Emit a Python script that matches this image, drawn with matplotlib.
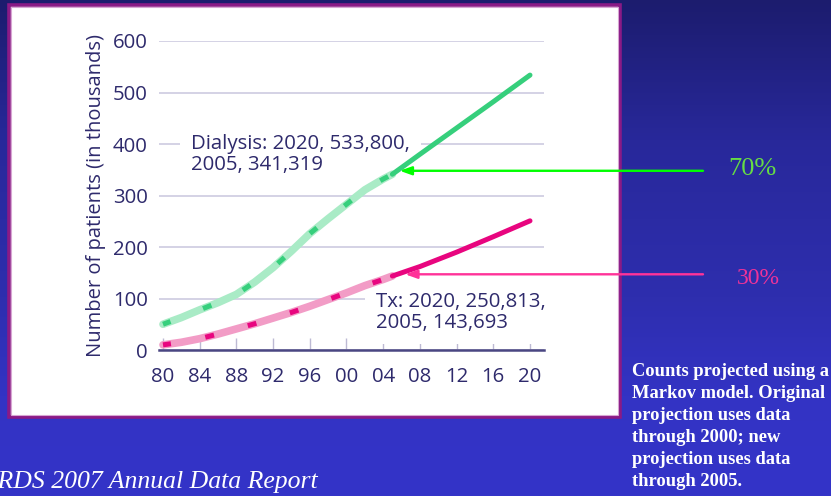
import numpy as np
import matplotlib
matplotlib.use("Agg")
import matplotlib.pyplot as plt
from matplotlib.patches import Rectangle
from matplotlib.colors import LinearSegmentedColormap
from matplotlib.transforms import blended_transform_factory

# ---- data (patients, thousands) ----
years_hist = [1980, 1982, 1984, 1986, 1988, 1990, 1992, 1994, 1996, 1998, 2000, 2002, 2004, 2005]
dialysis_hist = [50, 63, 78, 92, 108, 132, 160, 192, 226, 255, 283, 311, 332, 341.319]
tx_hist = [10, 15, 22, 31, 41, 51, 62, 73, 85, 98, 111, 125, 137, 143.693]

years_proj = [2005, 2008, 2012, 2016, 2020]
dialysis_proj = [341.319, 380, 431, 482, 533.8]
tx_proj = [143.693, 162, 190, 220, 250.813]

x_ticks = [1980, 1984, 1988, 1992, 1996, 2000, 2004, 2008, 2012, 2016, 2020]
x_ticklabels = ["80", "84", "88", "92", "96", "00", "04", "08", "12", "16", "20"]
y_ticks = [0, 100, 200, 300, 400, 500, 600]

dialysis_label = "Dialysis: 2020, 533,800,\n2005, 341,319"
tx_label = "Tx: 2020, 250,813,\n2005, 143,693"
share_labels = ["70%", "30%"]

W, H = 831, 496
fig = plt.figure(figsize=(W / 100, H / 100), dpi=100)

# slide background: vertical blue gradient
bg = fig.add_axes([0, 0, 1, 1], zorder=-10)
bg.set_axis_off()
cmap = LinearSegmentedColormap.from_list(
    "slide", [(0.0, "#1c1c6e"), (0.28, "#28289a"), (0.6, "#2e2eae"),
              (0.8, "#3333c4"), (1.0, "#3434c8")])
grad = np.linspace(0, 1, 256).reshape(-1, 1)
bg.imshow(grad, aspect="auto", cmap=cmap, extent=[0, 1, 0, 1], origin="upper")
bg.set_xlim(0, 1)
bg.set_ylim(0, 1)

# white chart panel with purple frame
def px_box(x0, y0, x1, y1):
    return (x0 / W, 1 - y1 / H, (x1 - x0) / W, (y1 - y0) / H)

bx, by, bw, bh = px_box(8.5, 5, 620, 417)
fig.patches.append(Rectangle((bx, by), bw, bh, transform=fig.transFigure,
                             facecolor="white", edgecolor="#8a1a86",
                             linewidth=2.6, zorder=-5))
fig.patches.append(Rectangle((bx + 2.2 / W, by + 2.2 / H), bw - 4.4 / W, bh - 4.4 / H,
                             transform=fig.transFigure, facecolor="none",
                             edgecolor="#d7a6d3", linewidth=0.8, zorder=-4))

# chart axes
px_per_year = (530 - 163) / 40.0
x_left = 1980 - (163 - 159) / px_per_year
x_right = 2020 + (544 - 530) / px_per_year
ax = fig.add_axes([159 / W, 1 - 350 / H, (544 - 159) / W, (350 - 41) / H])
ax.set_facecolor("none")
ax.set_xlim(x_left, x_right)
ax.set_ylim(0, 600)

navy = "#2e2a6c"
for s in ["top", "right", "left"]:
    ax.spines[s].set_visible(False)
ax.spines["bottom"].set_color("#4a4682")
ax.spines["bottom"].set_linewidth(1.8)
ax.spines["bottom"].set_zorder(3)

ax.set_yticks(y_ticks)
ax.set_xticks(x_ticks)
ax.set_xticklabels(x_ticklabels)
ax.grid(axis="y", color="#cdcbe0", linewidth=1.2, zorder=0)
ax.set_axisbelow(True)
ax.tick_params(axis="y", length=0, pad=8, labelsize=14.7, labelcolor=navy)
ax.tick_params(axis="x", direction="in", length=9, width=1.0, color="#bdbad4",
               pad=12, labelsize=14.7, labelcolor=navy)
for lab in ax.get_xticklabels() + ax.get_yticklabels():
    lab.set_fontfamily("Open Sans")

ax.set_ylabel("Number of patients (in thousands)", fontsize=14.5, color=navy,
              family="Open Sans", labelpad=5)

# series: earlier estimate (light band with dashes) and current projection (solid)
green_dark, green_light = "#36cf7c", "#a9ebc6"
pink_dark, pink_light = "#e8057f", "#f29cc6"

for yrs, vals, dark, light in [(years_hist, dialysis_hist, green_dark, green_light),
                               (years_hist, tx_hist, pink_dark, pink_light)]:
    ax.plot(yrs, vals, color=light, linewidth=5.5, solid_capstyle="round", zorder=4)
    ax.plot(yrs, vals, color=dark, linewidth=3.6, linestyle=(9, (1.8, 7.0)),
            solid_capstyle="butt", dash_capstyle="butt", zorder=5)

ax.plot(years_proj, dialysis_proj, color=green_dark, linewidth=3.6,
        solid_capstyle="round", zorder=5)
ax.plot(years_proj, tx_proj, color=pink_dark, linewidth=3.6,
        solid_capstyle="round", zorder=5)

# series labels
ax.text(1983.1, 380, dialysis_label, fontsize=14.7, color=navy, family="Open Sans",
        va="center", ha="left", linespacing=1.1, zorder=2,
        bbox=dict(facecolor="white", edgecolor="none", pad=8))
ax.text(2003.2, 73, tx_label, fontsize=14.7, color=navy, family="Open Sans",
        va="center", ha="left", linespacing=1.1, zorder=2,
        bbox=dict(facecolor="white", edgecolor="none", pad=8))

# arrows pointing at the 2005 values
blend = blended_transform_factory(fig.transFigure, ax.transData)
arrow_specs = [((2005.8, 348), "#00ff00"), ((2006.4, 147), "#ff3399")]
for (xy, col) in arrow_specs:
    ax.annotate("", xy=xy, xycoords="data", xytext=(703 / W, xy[1]),
                textcoords=blend, annotation_clip=False,
                arrowprops=dict(arrowstyle="-|>,head_length=0.7,head_width=0.25",
                                color=col, lw=1.7, shrinkA=0, shrinkB=0),
                zorder=6)

fig.text(752 / W, 1 - 169 / H, share_labels[0], color="#66dd44", fontsize=19,
         family="Liberation Serif", ha="center", va="center")
fig.text(758 / W, 1 - 278 / H, share_labels[1], color="#ee3399", fontsize=17,
         family="Liberation Serif", ha="center", va="center")

# footnotes
fig.text(318 / W, 1 - 488 / H, "USRDS 2007 Annual Data Report", color="white",
         fontsize=18.5, family="Liberation Serif", style="italic",
         ha="right", va="baseline")
fig.text(632 / W, 1 - 363 / H,
         "Counts projected using a\nMarkov model. Original\nprojection uses data\n"
         "through 2000; new\nprojection uses data\nthrough 2005.",
         color="white", fontsize=13.3, family="Liberation Serif", weight="bold",
         ha="left", va="top", linespacing=1.38)

fig.savefig("out.png", dpi=100)
